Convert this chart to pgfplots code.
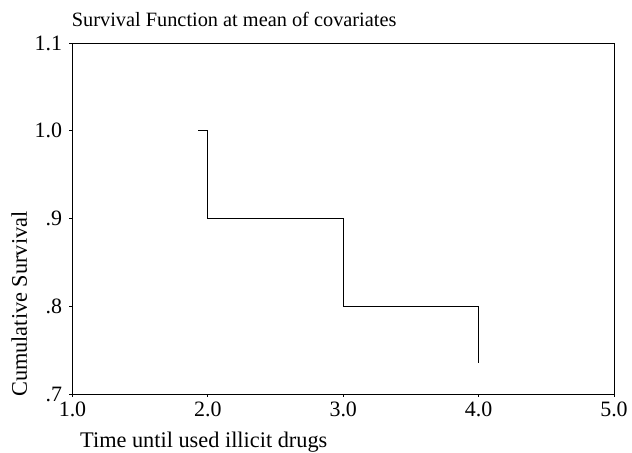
\documentclass[border=0pt]{standalone}
\usepackage{fontspec}
\setmainfont{Liberation Serif}
\usepackage{pgfplots}
\pgfplotsset{compat=1.18}
\begin{document}
\begin{tikzpicture}
\useasboundingbox (-72.5bp,-59bp) rectangle (559.5bp,394bp);
\begin{axis}[
  scale only axis,
  width=541.5bp, height=351bp,
  xmin=1, xmax=5, ymin=0.7, ymax=1.1,
  xtick={1,2,3,4,5},
  xticklabels={1.0,2.0,3.0,4.0,5.0},
  ytick={0.7,0.8,0.9,1.0,1.1},
  yticklabels={.7,.8,.9,1.0,1.1},
  tick align=outside,
  xtick pos=left, ytick pos=left,
  major tick length=3bp,
  tick style={black, line width=0.8bp},
  axis line style={black, line width=0.8bp},
  /pgf/number format/assume math mode=true,
  tick label style={font=\fontsize{22}{24}\selectfont},
  xticklabel style={yshift=-1bp},
  yticklabel style={xshift=-4bp},
  clip=false,
]
\addplot[const plot, black, line width=0.8bp] coordinates {
  (1.93,1.0) (2,0.9) (3,0.8) (4,0.735)
};
\end{axis}
\node[anchor=base west, inner sep=0pt, font=\fontsize{20.4}{24}\selectfont] at (-0.8bp,367bp) {Survival Function at mean of covariates};
\node[anchor=base west, inner sep=0pt, font=\fontsize{22.4}{24}\selectfont] at (7.5bp,-53bp) {Time until used illicit drugs};
\node[anchor=base west, rotate=90, inner sep=0pt, font=\fontsize{22.4}{24}\selectfont] at (-45.5bp,-3bp) {Cumulative Survival};
\end{tikzpicture}
\end{document}
